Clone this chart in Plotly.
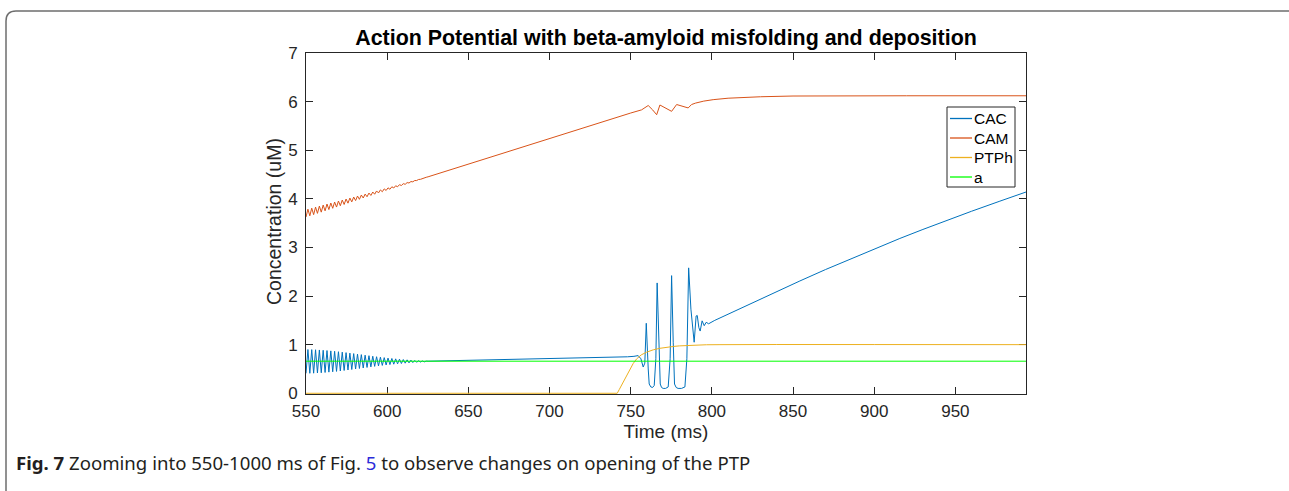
import plotly.graph_objects as go

# ---------------- data ----------------
# early damped oscillation (peaks/troughs), shared time samples
t_osc = [550.00, 551.18, 552.35, 553.53, 554.70, 555.88, 557.05, 558.23, 559.40, 560.58,
         561.75, 562.93, 564.10, 565.28, 566.45, 567.63, 568.80, 569.98, 571.15, 572.33,
         573.50, 574.68, 575.85, 577.03, 578.20, 579.38, 580.55, 581.73, 582.90, 584.08,
         585.25, 586.43, 587.60, 588.78, 589.95, 591.13, 592.30, 593.48, 594.65, 595.83,
         597.00, 598.18, 599.35, 600.53, 601.70, 602.88, 604.05, 605.23, 606.40, 607.58,
         608.75, 609.93, 611.10, 612.28, 613.45, 614.63, 615.80, 616.98, 618.15, 619.33,
         620.50, 621.68, 622.85, 624.03, 625.20]

cac_osc = [0.410, 0.900, 0.411, 0.898, 0.413, 0.895, 0.417, 0.891, 0.422, 0.885,
           0.428, 0.879, 0.435, 0.872, 0.442, 0.864, 0.450, 0.855, 0.459, 0.846,
           0.469, 0.836, 0.479, 0.826, 0.489, 0.816, 0.500, 0.805, 0.510, 0.795,
           0.520, 0.784, 0.531, 0.773, 0.542, 0.762, 0.553, 0.752, 0.563, 0.742,
           0.573, 0.733, 0.582, 0.724, 0.590, 0.716, 0.598, 0.708, 0.605, 0.701,
           0.612, 0.694, 0.619, 0.688, 0.625, 0.682, 0.631, 0.676, 0.637, 0.671,
           0.642, 0.666, 0.646, 0.662, 0.660]

cam_osc = [3.625, 3.787, 3.650, 3.808, 3.675, 3.830, 3.701, 3.851, 3.726, 3.872,
           3.753, 3.893, 3.779, 3.914, 3.805, 3.934, 3.831, 3.955, 3.858, 3.975,
           3.884, 3.996, 3.911, 4.016, 3.937, 4.037, 3.964, 4.057, 3.990, 4.078,
           4.017, 4.098, 4.043, 4.119, 4.070, 4.140, 4.095, 4.162, 4.121, 4.183,
           4.146, 4.205, 4.172, 4.226, 4.197, 4.248, 4.223, 4.269, 4.248, 4.291,
           4.274, 4.312, 4.299, 4.334, 4.325, 4.355, 4.350, 4.377, 4.376, 4.398,
           4.401, 4.420, 4.427, 4.443, 4.453]

# CAC after the oscillation: slow rise, bursts after PTP opening, then climb
t_cac_late = [640, 660, 680, 700, 720, 740, 748, 752, 754.6, 756.3,
              757.7, 758.7, 759.6, 760.8, 761.4, 762.4, 763.5, 764.5, 765.5, 766.3,
              767.4, 768.2, 769.0, 770.0, 771.5, 773.1, 774.3, 775.2, 776.2, 777.0,
              778.0, 779.2, 781.3, 783.4, 784.6, 785.7, 787.1, 788.5, 789.1, 790.3,
              791.0, 792.0, 792.8, 794.0, 795.3, 796.5, 798.0, 801.8, 805, 815,
              823.4, 840, 854.2, 870, 885, 900, 915.8, 930, 946.6, 960,
              977.4, 993.5]
cac_late = [0.670, 0.680, 0.695, 0.708, 0.722, 0.737, 0.750, 0.760, 0.775, 0.710,
            0.540, 0.620, 1.440, 0.500, 0.190, 0.130, 0.120, 0.160, 0.710, 2.270,
            1.050, 0.190, 0.120, 0.100, 0.100, 0.130, 0.710, 2.420, 1.050, 0.190,
            0.120, 0.100, 0.100, 0.130, 0.710, 2.580, 1.730, 1.180, 1.050, 1.590,
            1.600, 1.350, 1.280, 1.490, 1.390, 1.460, 1.430, 1.500, 1.550, 1.700,
            1.835, 2.095, 2.310, 2.545, 2.760, 2.970, 3.185, 3.370, 3.580, 3.745,
            3.952, 4.140]

# CAM after the oscillation
t_cam_late = [640, 660, 680, 700, 720, 740, 750, 756.7, 760.8, 763.5,
              766.0, 768.0, 771.5, 775.2, 778.3, 782.0, 785.4, 787.5, 790, 795,
              800.8, 810, 817.3, 830, 850, 880, 920, 993.5]
cam_late = [4.61, 4.82, 5.03, 5.24, 5.45, 5.66, 5.765, 5.83, 5.92, 5.83,
            5.73, 5.93, 5.87, 5.80, 5.94, 5.91, 5.87, 5.94, 5.97, 6.01,
            6.04, 6.07, 6.085, 6.10, 6.115, 6.12, 6.12, 6.12]

# PTPh gate
t_ptph = [550, 741.7, 743, 745.4, 747.5, 749.5, 751.5, 753.6, 756.5, 759.8,
          764, 768, 772, 776.2, 780, 784.4, 790, 796.7, 805, 817,
          840, 900, 993.5]
ptph = [0, 0, 0.08, 0.23, 0.37, 0.50, 0.61, 0.705, 0.79, 0.845,
        0.895, 0.925, 0.948, 0.963, 0.975, 0.985, 0.993, 0.998, 1.0, 1.003,
        1.003, 1.002, 1.0]

# a (constant)
t_a = [550, 993.5]
a_vals = [0.66, 0.66]

x_ticks = [550, 600, 650, 700, 750, 800, 850, 900, 950]
y_ticks = [0, 1, 2, 3, 4, 5, 6, 7]

series_names = ["CAC", "CAM", "PTPh", "a"]
series_colors = ["#0072BD", "#D95319", "#EDB120", "#00FF00"]

t_cac = t_osc + t_cac_late
cac = cac_osc + cac_late
t_cam = t_osc + t_cam_late
cam = cam_osc + cam_late

# ---------------- layout geometry (pixels) ----------------
W, H = 1289, 491
L, R, T, B = 306, 1026, 53, 394


def px(x):
    return (x - L) / (R - L)


def py(y):
    return (B - y) / (B - T)


AX = "#262626"
FONT = "Liberation Sans, Arial, Helvetica, sans-serif"

fig = go.Figure()
for (xs, ys), name, col in zip([(t_cac, cac), (t_cam, cam), (t_ptph, ptph), (t_a, a_vals)],
                               series_names, series_colors):
    fig.add_trace(go.Scatter(x=xs, y=ys, mode="lines", name=name,
                             line=dict(color=col, width=1), showlegend=False))

shapes = []
annotations = []

# figure frame (rounded box of the article figure)
frame_path = (f"M {px(6)},{py(491)} L {px(6)},{py(21)} "
              f"Q {px(6)},{py(11)} {px(16)},{py(11)} L {px(1289)},{py(11)}")
shapes.append(dict(type="path", xref="paper", yref="paper", path=frame_path,
                   line=dict(color="#6e6e6e", width=1.5)))

# legend box drawn to match the MATLAB legend
shapes.append(dict(type="rect", xref="paper", yref="paper",
                   x0=px(947), x1=px(1015), y0=py(187), y1=py(107),
                   line=dict(color=AX, width=1), fillcolor="white", layer="above"))
rows = [118.5, 138.0, 157.5, 177.0]
for name, col, ry in zip(series_names, series_colors, rows):
    shapes.append(dict(type="line", xref="paper", yref="paper",
                       x0=px(950), x1=px(972), y0=py(ry), y1=py(ry),
                       line=dict(color=col, width=1.3), layer="above"))
    annotations.append(dict(xref="paper", yref="paper", x=px(973), y=py(ry),
                            xanchor="left", yanchor="middle", showarrow=False, borderpad=0,
                            text=name, font=dict(family=FONT, size=15.5, color="#000000")))

# y-axis title placed at the reference position
annotations.append(dict(xref="paper", yref="paper", x=px(274), y=py(222),
                        xanchor="center", yanchor="middle", showarrow=False, textangle=-90,
                        text="Concentration (uM)",
                        font=dict(family=FONT, size=19.5, color=AX)))

# caption
annotations.append(dict(
    xref="paper", yref="paper", x=px(15), y=py(462), xanchor="left", yanchor="middle",
    showarrow=False, borderpad=0,
    text=("<b>Fig. 7</b> Zooming into 550-1000 ms of Fig. "
          "<span style='color:#2b2bd9'>5</span> to observe changes on opening of the PTP"),
    font=dict(family="Noto Sans, Open Sans, sans-serif", size=18.6, color="#231f20")))

axis_common = dict(
    showline=True, linecolor=AX, linewidth=1, mirror="ticks",
    ticks="inside", ticklen=7, tickwidth=1, tickcolor=AX,
    showgrid=False, zeroline=False, layer="below traces",
    tickfont=dict(family=FONT, size=17, color=AX),
)

fig.update_layout(
    width=W, height=H, autosize=False,
    margin=dict(l=L, r=W - R, t=T, b=H - B, pad=0),
    paper_bgcolor="white", plot_bgcolor="white",
    title=dict(text="<b>Action Potential with beta-amyloid misfolding and deposition</b>",
               x=px(666), xref="paper", xanchor="center",
               y=1 - 38 / H, yref="container", yanchor="middle",
               font=dict(family=FONT, size=21.4, color="#000000")),
    xaxis=dict(range=[550, 993.5], tickvals=x_ticks, ticktext=[str(v) for v in x_ticks],
               ticklabelstandoff=2,
               title=dict(text="Time (ms)", font=dict(family=FONT, size=19, color=AX),
                          standoff=4),
               **axis_common),
    yaxis=dict(range=[-0.015, 7], tickvals=y_ticks, ticktext=[str(v) for v in y_ticks],
               ticklabelstandoff=4,
               **axis_common),
    shapes=shapes,
    annotations=annotations,
)

fig.write_html("out.html", config={"displayModeBar": False},
               post_script="document.body.style.margin='0';")
